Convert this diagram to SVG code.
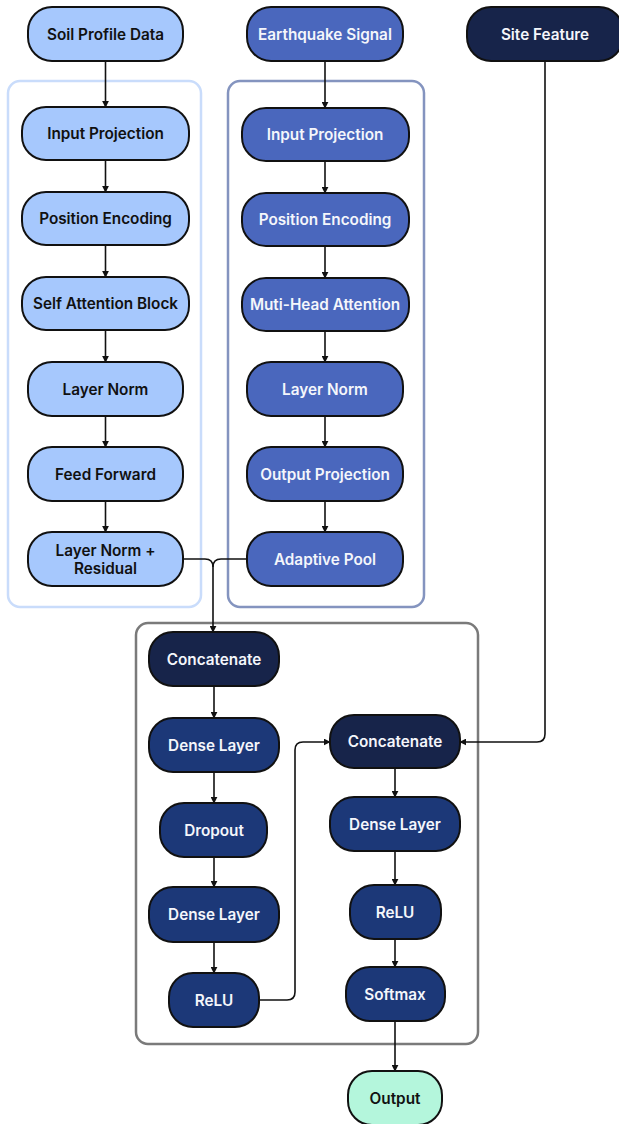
<svg xmlns="http://www.w3.org/2000/svg" width="619" height="1124" viewBox="0 0 619 1124">
<style>
.n{stroke:#111;stroke-width:2}
.lb{fill:#a6c8fd}
.mb{fill:#4a67bd}
.nv{fill:#17244a}
.db{fill:#1c3878}
.out{fill:#b4f6dc}
text{font-family:Inter,"Noto Sans","Liberation Sans",sans-serif;font-size:15.3px;font-weight:600;text-anchor:middle;dominant-baseline:central}
.dk{fill:#111}
.wt{fill:#f4f6fb}
.c{fill:none;stroke:#111;stroke-width:1.6}
</style>
<defs>
<marker id="ah" viewBox="0 0 10 10" refX="9" refY="5" markerWidth="7" markerHeight="7" orient="auto" markerUnits="userSpaceOnUse">
<path d="M0,0 L10,5 L0,10 z" fill="#111"/>
</marker>
</defs>
<rect width="619" height="1124" fill="#fff"/>
<g id="containers">
<rect x="8" y="81" width="193" height="526" rx="12" fill="none" stroke="#c9dcfb" stroke-width="2.5"/>
<rect x="228" y="81" width="196" height="526" rx="12" fill="none" stroke="#8494bf" stroke-width="2.5"/>
<rect x="136" y="623" width="342" height="421" rx="12" fill="none" stroke="#7a7a7a" stroke-width="2.5"/>
</g>
<g id="connectors">
<path class="c" d="M105.5,61 V107" marker-end="url(#ah)"/>
<path class="c" d="M105.5,160 V192" marker-end="url(#ah)"/>
<path class="c" d="M105.5,245 V277" marker-end="url(#ah)"/>
<path class="c" d="M105.5,330 V362" marker-end="url(#ah)"/>
<path class="c" d="M105.5,416 V447" marker-end="url(#ah)"/>
<path class="c" d="M105.5,501 V532" marker-end="url(#ah)"/>
<path class="c" d="M325,61 V108" marker-end="url(#ah)"/>
<path class="c" d="M325,161 V193" marker-end="url(#ah)"/>
<path class="c" d="M325,246 V278" marker-end="url(#ah)"/>
<path class="c" d="M325,331 V362" marker-end="url(#ah)"/>
<path class="c" d="M325,416 V447" marker-end="url(#ah)"/>
<path class="c" d="M325,501 V532" marker-end="url(#ah)"/>
<path class="c" d="M183,559 H205 Q213,559 213,567 V632" marker-end="url(#ah)"/>
<path class="c" d="M247,559 H221 Q213,559 213,567"/>
<path class="c" d="M214,686 V718" marker-end="url(#ah)"/>
<path class="c" d="M214,772 V803" marker-end="url(#ah)"/>
<path class="c" d="M214,857 V887" marker-end="url(#ah)"/>
<path class="c" d="M214,942 V973" marker-end="url(#ah)"/>
<path class="c" d="M259,1000 H287 Q295,1000 295,992 V750 Q295,742 303,742 H330" marker-end="url(#ah)"/>
<path class="c" d="M545,61 V734 Q545,742 537,742 H460" marker-end="url(#ah)"/>
<path class="c" d="M395,768 V797" marker-end="url(#ah)"/>
<path class="c" d="M395,851 V885" marker-end="url(#ah)"/>
<path class="c" d="M395,939 V967" marker-end="url(#ah)"/>
<path class="c" d="M395,1021 V1071" marker-end="url(#ah)"/>
</g>
<g id="soil-profile-data"><rect class="n lb" x="28" y="7" width="155" height="54" rx="24"/><text class="dk" x="105.5" y="34">Soil Profile Data</text></g>
<g id="earthquake-signal"><rect class="n mb" x="247" y="7" width="156" height="54" rx="24"/><text class="wt" x="325" y="34">Earthquake Signal</text></g>
<g id="site-feature"><rect class="n nv" x="467" y="7" width="156" height="54" rx="24"/><text class="wt" x="545" y="34">Site Feature</text></g>

<g id="l-input-projection"><rect class="n lb" x="22" y="107" width="167" height="53" rx="24"/><text class="dk" x="105.5" y="133.5">Input Projection</text></g>
<g id="l-position-encoding"><rect class="n lb" x="22" y="192" width="167" height="53" rx="24"/><text class="dk" x="105.5" y="218.5">Position Encoding</text></g>
<g id="l-self-attention"><rect class="n lb" x="22" y="277" width="167" height="53" rx="24"/><text class="dk" x="105.5" y="303.5">Self Attention Block</text></g>
<g id="l-layer-norm"><rect class="n lb" x="28" y="362" width="155" height="54" rx="24"/><text class="dk" x="105.5" y="389">Layer Norm</text></g>
<g id="l-feed-forward"><rect class="n lb" x="28" y="447" width="155" height="54" rx="24"/><text class="dk" x="105.5" y="474">Feed Forward</text></g>
<g id="l-layer-norm-residual"><rect class="n lb" x="28" y="532" width="155" height="54" rx="24"/><text class="dk" x="105.5" y="550">Layer Norm +</text><text class="dk" x="105.5" y="568">Residual</text></g>

<g id="r-input-projection"><rect class="n mb" x="242" y="108" width="167" height="53" rx="24"/><text class="wt" x="325" y="134.5">Input Projection</text></g>
<g id="r-position-encoding"><rect class="n mb" x="242" y="193" width="167" height="53" rx="24"/><text class="wt" x="325" y="219.5">Position Encoding</text></g>
<g id="r-multi-head-attention"><rect class="n mb" x="242" y="278" width="167" height="53" rx="24"/><text class="wt" x="325" y="304.5">Muti-Head Attention</text></g>
<g id="r-layer-norm"><rect class="n mb" x="247" y="362" width="156" height="54" rx="24"/><text class="wt" x="325" y="389">Layer Norm</text></g>
<g id="r-output-projection"><rect class="n mb" x="247" y="447" width="156" height="54" rx="24"/><text class="wt" x="325" y="474">Output Projection</text></g>
<g id="r-adaptive-pool"><rect class="n mb" x="247" y="532" width="156" height="54" rx="24"/><text class="wt" x="325" y="559">Adaptive Pool</text></g>

<g id="concatenate-1"><rect class="n nv" x="149" y="632" width="130" height="54" rx="24"/><text class="wt" x="214" y="659">Concatenate</text></g>
<g id="dense-layer-1"><rect class="n db" x="149" y="718" width="130" height="54" rx="24"/><text class="wt" x="214" y="745">Dense Layer</text></g>
<g id="dropout"><rect class="n db" x="160" y="803" width="107" height="54" rx="24"/><text class="wt" x="214" y="830">Dropout</text></g>
<g id="dense-layer-2"><rect class="n db" x="149" y="887" width="130" height="55" rx="24"/><text class="wt" x="214" y="914.5">Dense Layer</text></g>
<g id="relu-1"><rect class="n db" x="169" y="973" width="90" height="54" rx="24"/><text class="wt" x="214" y="1000">ReLU</text></g>

<g id="concatenate-2"><rect class="n nv" x="330" y="715" width="130" height="53" rx="24"/><text class="wt" x="395" y="741.5">Concatenate</text></g>
<g id="dense-layer-3"><rect class="n db" x="330" y="797" width="130" height="54" rx="24"/><text class="wt" x="395" y="824">Dense Layer</text></g>
<g id="relu-2"><rect class="n db" x="350" y="885" width="91" height="54" rx="24"/><text class="wt" x="395" y="912">ReLU</text></g>
<g id="softmax"><rect class="n db" x="346" y="967" width="99" height="54" rx="24"/><text class="wt" x="395" y="994">Softmax</text></g>
<g id="output"><rect class="n out" x="348" y="1071" width="94" height="54" rx="24"/><text class="dk" x="395" y="1098">Output</text></g>
</svg>
